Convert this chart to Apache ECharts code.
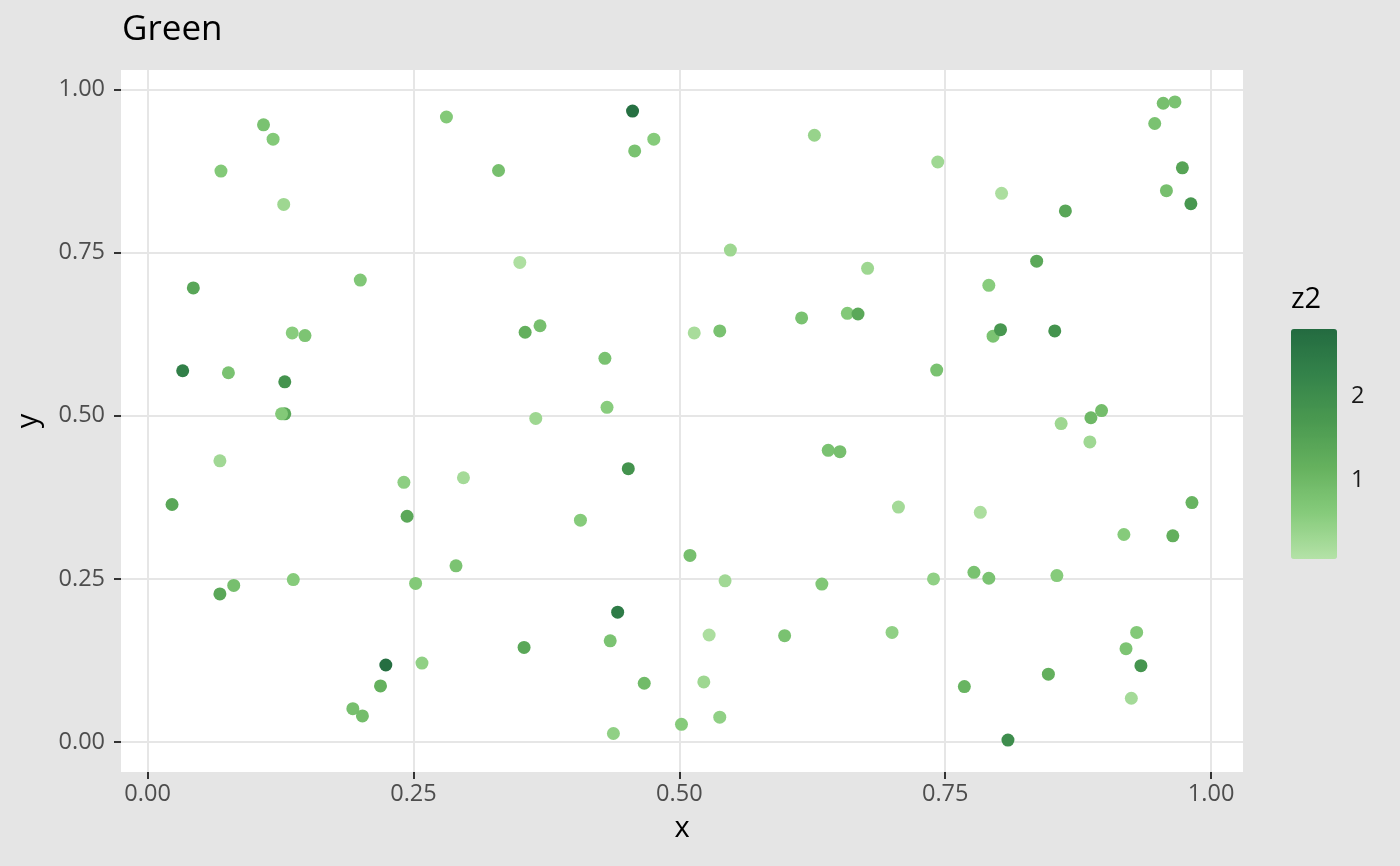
<!DOCTYPE html>
<html>
<head>
<meta charset="utf-8">
<script src="https://cdn.jsdelivr.net/npm/echarts@6.0.0/dist/echarts.min.js"></script>
<style>
  html, body { margin: 0; padding: 0; background: #e5e5e5; }
  #chart { width: 1400px; height: 866px; }
</style>
</head>
<body>
<div id="chart"></div>
<script>
// points: x, y and the z2 colour value
const xs = [0.109, 0.118, 0.069, 0.128, 0.043, 0.200, 0.136, 0.148, 0.033, 0.076,
  0.129, 0.129, 0.126, 0.281, 0.456, 0.476, 0.458, 0.330, 0.627, 0.350,
  0.548, 0.355, 0.369, 0.430, 0.514, 0.538, 0.615, 0.432, 0.365, 0.743,
  0.803, 0.863, 0.955, 0.966, 0.947, 0.973, 0.958, 0.981, 0.677, 0.836,
  0.791, 0.658, 0.668, 0.795, 0.802, 0.853, 0.742, 0.897, 0.887, 0.859,
  0.068, 0.023, 0.068, 0.081, 0.137, 0.241, 0.244, 0.224, 0.219, 0.193,
  0.202, 0.252, 0.452, 0.297, 0.407, 0.290, 0.510, 0.543, 0.634, 0.442,
  0.435, 0.354, 0.528, 0.599, 0.258, 0.467, 0.523, 0.538, 0.502, 0.438,
  0.886, 0.640, 0.651, 0.706, 0.783, 0.982, 0.918, 0.964, 0.739, 0.777,
  0.791, 0.855, 0.700, 0.930, 0.920, 0.934, 0.847, 0.768, 0.925, 0.809]
const ys = [0.946, 0.924, 0.875, 0.824, 0.696, 0.708, 0.627, 0.623, 0.569, 0.566,
  0.552, 0.503, 0.503, 0.958, 0.967, 0.924, 0.906, 0.876, 0.930, 0.735,
  0.754, 0.628, 0.638, 0.588, 0.627, 0.630, 0.650, 0.513, 0.496, 0.889,
  0.841, 0.814, 0.979, 0.981, 0.948, 0.880, 0.845, 0.825, 0.726, 0.737,
  0.700, 0.657, 0.656, 0.622, 0.632, 0.630, 0.570, 0.508, 0.497, 0.488,
  0.431, 0.364, 0.227, 0.240, 0.249, 0.398, 0.346, 0.118, 0.086, 0.051,
  0.040, 0.243, 0.419, 0.405, 0.340, 0.270, 0.286, 0.247, 0.242, 0.199,
  0.155, 0.145, 0.164, 0.163, 0.121, 0.090, 0.092, 0.038, 0.027, 0.013,
  0.460, 0.447, 0.445, 0.360, 0.352, 0.367, 0.318, 0.316, 0.250, 0.260,
  0.251, 0.255, 0.168, 0.168, 0.143, 0.117, 0.104, 0.085, 0.067, 0.003]
const zs = [0.80, 0.65, 0.65, 0.32, 1.40, 0.68, 0.58, 0.75, 2.35, 0.80,
  1.85, 1.35, 0.65, 0.65, 2.70, 0.60, 0.80, 0.85, 0.40, 0.12,
  0.32, 1.20, 0.85, 0.80, 0.20, 0.80, 0.80, 0.58, 0.32, 0.30,
  0.15, 1.40, 0.85, 0.80, 0.80, 1.45, 0.85, 1.75, 0.32, 1.35,
  0.58, 0.65, 1.35, 0.78, 1.75, 1.85, 0.80, 0.90, 1.00, 0.32,
  0.28, 1.38, 1.38, 0.85, 0.60, 0.52, 1.35, 2.75, 1.15, 0.85,
  0.90, 0.65, 1.85, 0.24, 0.60, 0.78, 0.85, 0.28, 0.68, 2.45,
  0.78, 1.38, 0.15, 0.80, 0.48, 0.95, 0.32, 0.48, 0.60, 0.48,
  0.30, 0.80, 0.85, 0.24, 0.15, 1.10, 0.60, 1.20, 0.48, 0.80,
  0.78, 0.60, 0.48, 0.65, 0.75, 1.80, 1.20, 1.10, 0.24, 2.00]

const axisTicks = [0, 0.25, 0.5, 0.75, 1]
const legendTicks = [1, 2]
const zRange = [0.05, 2.81]
const greens = ['#b4e2a7', '#86cb7b', '#65b15e', '#4a9950', '#34834a', '#236b40']

const font = 'Open Sans'

const chart = echarts.init(document.getElementById('chart'))

const valueAxis = (extra) => Object.assign({
  type: 'value',
  axisLine: { show: false, onZero: false },
  axisTick: {
    customValues: axisTicks, length: 7,
    lineStyle: { color: '#333333', width: 2 }
  },
  splitLine: { show: true, lineStyle: { color: '#e6e6e6', width: 2 } },
  nameLocation: 'middle',
  nameTextStyle: { color: '#000', fontSize: 29, fontFamily: font }
}, extra)

const axisLabel = (margin) => ({
  customValues: axisTicks,
  formatter: v => v.toFixed(2),
  margin: margin,
  color: '#4d4d4d', fontSize: 23.5, fontFamily: font
})

// the colourbar ticks sit inside the bar on both sides
const legendAxis = (position, showLabel) => ({
  type: 'value', gridIndex: 1, position: position,
  min: zRange[0], max: zRange[1],
  axisLine: { show: false, onZero: false },
  splitLine: { show: false },
  axisTick: {
    customValues: legendTicks, inside: true, length: 10,
    lineStyle: { color: 'rgba(255,255,255,0.75)', width: 2 }
  },
  axisLabel: {
    show: showLabel, customValues: legendTicks, margin: 14,
    color: '#1a1a1a', fontSize: 23.5, fontFamily: font
  }
})

chart.setOption({
  backgroundColor: '#e5e5e5',
  animation: false,
  title: [{
    text: 'Green', left: 122, top: 13, padding: 0,
    textStyle: { color: '#000', fontSize: 35, fontWeight: 'normal', fontFamily: font }
  }, {
    text: 'z2', left: 1291, top: 285, padding: 0,
    textStyle: { color: '#000', fontSize: 29, fontWeight: 'normal', fontFamily: font }
  }],
  grid: [{
    left: 121, top: 70, width: 1122, height: 702,
    show: true, backgroundColor: '#ffffff', borderWidth: 0
  }, {
    left: 1291, top: 329, width: 46, height: 230
  }],
  xAxis: [
    valueAxis({ min: -0.025, max: 1.030, name: 'x', nameGap: 42, axisLabel: axisLabel(10) }),
    { type: 'value', gridIndex: 1, show: false, min: 0, max: 1 }
  ],
  yAxis: [
    valueAxis({ min: -0.046, max: 1.030, name: 'y', nameGap: 78, axisLabel: axisLabel(16) }),
    legendAxis('left', false),
    legendAxis('right', true)
  ],
  visualMap: {
    type: 'continuous',
    seriesIndex: 0,
    dimension: 2,
    min: zRange[0], max: zRange[1],
    calculable: false,
    left: 1291, top: 329, padding: 0,
    itemWidth: 46, itemHeight: 230,
    text: null,
    inRange: { color: greens }
  },
  series: [{
    type: 'scatter',
    symbolSize: 13,
    itemStyle: { opacity: 1 },
    data: xs.map((x, i) => [x, ys[i], zs[i]])
  }, {
    type: 'scatter', xAxisIndex: 1, yAxisIndex: 2, data: [], silent: true
  }]
})
</script>
</body>
</html>
